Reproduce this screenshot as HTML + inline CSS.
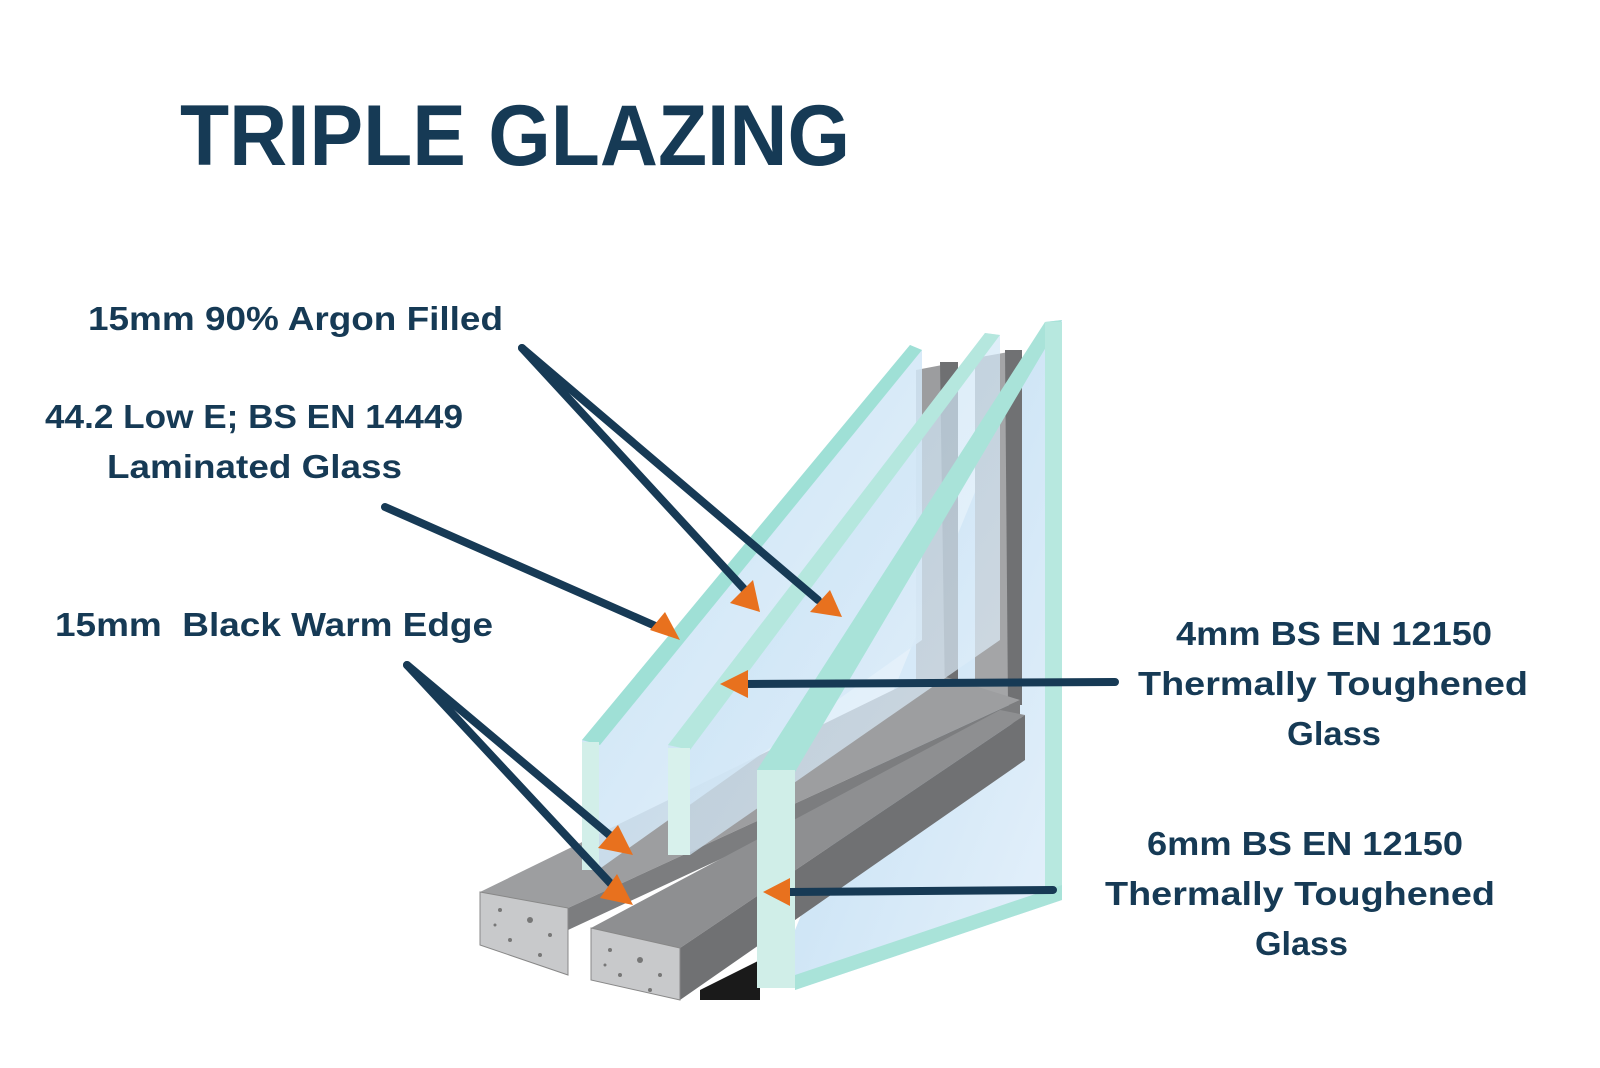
<!DOCTYPE html>
<html><head><meta charset="utf-8"><style>
html,body{margin:0;padding:0;background:#fff;}
svg{display:block;}
text{font-family:"Liberation Sans",sans-serif;font-weight:bold;fill:#163a55;}
</style></head><body>
<svg width="1600" height="1068" viewBox="0 0 1600 1068" xmlns="http://www.w3.org/2000/svg">
<defs>
<linearGradient id="gl" x1="0" y1="0" x2="1" y2="1"><stop offset="0" stop-color="#bcdcf2"/><stop offset="1" stop-color="#e6f1fb"/></linearGradient>
<linearGradient id="sp" x1="0" y1="0" x2="1" y2="0"><stop offset="0" stop-color="#a8a9ab"/><stop offset="1" stop-color="#8a8b8d"/></linearGradient>
</defs>
<rect width="1600" height="1068" fill="#fff"/>
<text x="180" y="165" font-size="86" textLength="670" lengthAdjust="spacingAndGlyphs">TRIPLE GLAZING</text>

<!-- back right pane face -->
<polygon points="1045,322 1062,320 1062,900 795,990 795,930" fill="url(#gl)"/>
<!-- vertical spacers -->
<polygon points="916,370 958,362 958,700 916,705" fill="#9c9d9f"/>
<polygon points="940,362 958,362 958,700 945,700" fill="#6f7072"/>
<polygon points="975,358 1020,350 1020,700 975,700" fill="#a4a5a7"/>
<polygon points="1005,350 1022,350 1022,705 1008,705" fill="#707173"/>
<!-- bottom spacer rails -->
<polygon points="480,892 930,672 1020,700 568,908" fill="#9d9ea0"/>
<polygon points="568,908 1020,700 1020,720 568,930" fill="#7c7d7f"/>
<polygon points="591,928 1000,710 1025,715 680,948" fill="#8e8f91"/>
<polygon points="680,948 1025,715 1025,760 680,1000" fill="#707173"/>
<polygon points="700,990 760,960 760,1000 700,1000" fill="#1a1a1a"/>
<polygon points="480,892 568,908 568,975 480,945" fill="#c8c9cb" stroke="#888" stroke-width="1"/>
<polygon points="591,928 680,948 680,1000 591,980" fill="#c8c9cb" stroke="#888" stroke-width="1"/>
<g fill="#777">
<circle cx="500" cy="910" r="2"/><circle cx="530" cy="920" r="3"/><circle cx="550" cy="935" r="2"/><circle cx="510" cy="940" r="2"/><circle cx="540" cy="955" r="2"/><circle cx="495" cy="925" r="1.5"/>
<circle cx="610" cy="950" r="2"/><circle cx="640" cy="960" r="3"/><circle cx="660" cy="975" r="2"/><circle cx="620" cy="975" r="2"/><circle cx="650" cy="990" r="2"/><circle cx="605" cy="965" r="1.5"/>
</g>

<!-- pane 1 -->
<polygon points="582,740 910,345 922,350 922,640 598,870 582,870" fill="url(#gl)" opacity="0.85"/>
<polygon points="582,740 910,345 922,350 600,745" fill="#9fe0d6"/>
<rect x="582" y="742" width="17" height="128" fill="#d2efe9"/>
<!-- pane 2 -->
<polygon points="668,745 985,333 1000,335 1000,640 690,855 668,855" fill="url(#gl)" opacity="0.7"/>
<polygon points="668,745 985,333 1000,335 690,750" fill="#b5e7de"/>
<rect x="668" y="748" width="22" height="107" fill="#d8f1ec"/>
<!-- pane 3 -->
<polygon points="757,770 1045,322 1062,320 795,772" fill="#a9e3d9"/>
<rect x="757" y="770" width="38" height="218" fill="#d0eee8"/>
<rect x="1045" y="322" width="17" height="578" fill="#b7e8df"/>
<polygon points="795,975 1062,885 1062,900 795,990" fill="#a9e3d9"/>

<!-- connector lines -->
<g stroke="#173a55" stroke-width="8" stroke-linecap="round" fill="none">
<line x1="522" y1="348" x2="745" y2="590"/>
<line x1="522" y1="348" x2="818" y2="600"/>
<line x1="385" y1="507" x2="660" y2="628"/>
<line x1="407" y1="665" x2="613" y2="838"/>
<line x1="407" y1="665" x2="612" y2="885"/>
<line x1="1115" y1="682" x2="745" y2="684"/>
<line x1="1053" y1="890" x2="790" y2="892"/>
</g>
<g fill="#e8711e">
<polygon points="760,612 730,603 753,580"/>
<polygon points="842,617 810,612 830,590"/>
<polygon points="680,640 650,630 665,612"/>
<polygon points="633,855 598,848 618,825"/>
<polygon points="633,905 600,898 617,874"/>
<polygon points="720,684 748,670 748,698"/>
<polygon points="763,892 790,878 790,906"/>
</g>

<!-- labels -->
<g font-size="33">
<text x="88" y="330" textLength="415" lengthAdjust="spacingAndGlyphs">15mm 90% Argon Filled</text>
<text x="45" y="428" textLength="418" lengthAdjust="spacingAndGlyphs">44.2 Low E; BS EN 14449</text>
<text x="107" y="478" textLength="295" lengthAdjust="spacingAndGlyphs">Laminated Glass</text>
<text x="55" y="636" textLength="438" lengthAdjust="spacingAndGlyphs" xml:space="preserve">15mm  Black Warm Edge</text>
<text x="1176" y="645" textLength="316" lengthAdjust="spacingAndGlyphs">4mm BS EN 12150</text>
<text x="1138" y="695" textLength="390" lengthAdjust="spacingAndGlyphs">Thermally Toughened</text>
<text x="1287" y="745" textLength="94" lengthAdjust="spacingAndGlyphs">Glass</text>
<text x="1147" y="855" textLength="316" lengthAdjust="spacingAndGlyphs">6mm BS EN 12150</text>
<text x="1105" y="905" textLength="390" lengthAdjust="spacingAndGlyphs">Thermally Toughened</text>
<text x="1255" y="955" textLength="93" lengthAdjust="spacingAndGlyphs">Glass</text>
</g>
</svg>
</body></html>
